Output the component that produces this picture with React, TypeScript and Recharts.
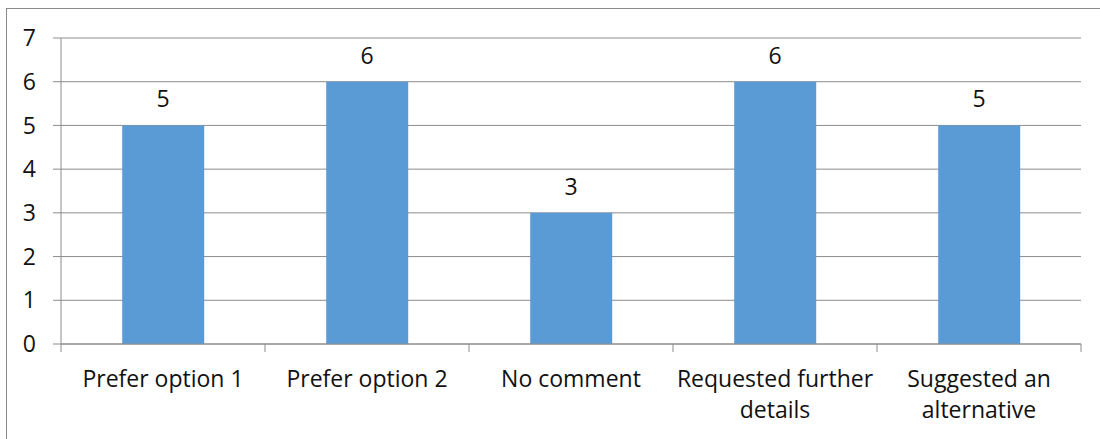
import { Bar, BarChart, CartesianGrid, LabelList, XAxis, YAxis } from "recharts";

const CATEGORIES = [
  "Prefer option 1",
  "Prefer option 2",
  "No comment",
  "Requested further details",
  "Suggested an alternative",
];
const COUNTS = [5, 6, 3, 6, 5];
const Y_TICKS = [0, 1, 2, 3, 4, 5, 6, 7];

const FONT = "'Open Sans', Lato, sans-serif";
const FONT_SIZE = 23;
const GRID = "#8c8c8c";
const BAR = "#5b9bd5";
const MAX_CHARS = 18;

const data = CATEGORIES.map((name, i) => ({ name, count: COUNTS[i] }));

// greedy word wrap, the way Excel breaks the long category names
function wrap(label: string) {
  const lines: string[] = [];
  for (const word of label.split(" ")) {
    const last = lines[lines.length - 1];
    if (last && (last + " " + word).length <= MAX_CHARS) lines[lines.length - 1] = last + " " + word;
    else lines.push(word);
  }
  return lines;
}

function CategoryTick(props: any) {
  const { x, y, payload, index, visibleTicksCount, width } = props;
  const half = (Number(width) || 1020) / (visibleTicksCount || 5) / 2;
  const top = y - 20;
  return (
    <g>
      <line x1={x - half} x2={x - half} y1={top - 8} y2={top} stroke={GRID} />
      {index === visibleTicksCount - 1 && (
        <line x1={x + half} x2={x + half} y1={top - 8} y2={top} stroke={GRID} />
      )}
      <text x={x} y={y + 15} textAnchor="middle" fontSize={FONT_SIZE} fontFamily={FONT} fill="#111">
        {wrap(payload.value).map((line, i) => (
          <tspan key={i} x={x} dy={i === 0 ? 0 : 31}>
            {line}
          </tspan>
        ))}
      </text>
    </g>
  );
}

export default function App() {
  return (
    <div style={{ position: "absolute", left: 0, top: 0, width: 1100, height: 439, overflow: "hidden", background: "#fff" }}>
      <div
        style={{
          position: "absolute",
          left: 6,
          top: 8,
          width: 1100,
          height: 500,
          border: "1px solid #8a8a8a",
        }}
      />
      <div style={{ position: "absolute", left: 0, top: 0 }}>
        <BarChart
          width={1100}
          height={439}
          data={data}
          margin={{ top: 38, right: 19, bottom: 0, left: 0 }}
          barCategoryGap="30%"
        >
          <CartesianGrid vertical={false} stroke={GRID} strokeWidth={1} />
          <YAxis
            domain={[0, 7]}
            ticks={Y_TICKS}
            interval={0}
            width={61}
            tickSize={8}
            tickMargin={17}
            stroke={GRID}
            tick={{ fill: "#111", fontSize: FONT_SIZE, fontFamily: FONT }}
          />
          <XAxis
            dataKey="name"
            height={95}
            stroke={GRID}
            tickLine={false}
            tickSize={0}
            tickMargin={28}
            interval={0}
            tick={<CategoryTick />}
          />
          <Bar dataKey="count" fill={BAR} isAnimationActive={false}>
            <LabelList
              dataKey="count"
              position="top"
              offset={18}
              fill="#111"
              fontSize={FONT_SIZE}
              fontFamily={FONT}
            />
          </Bar>
        </BarChart>
      </div>
    </div>
  );
}
